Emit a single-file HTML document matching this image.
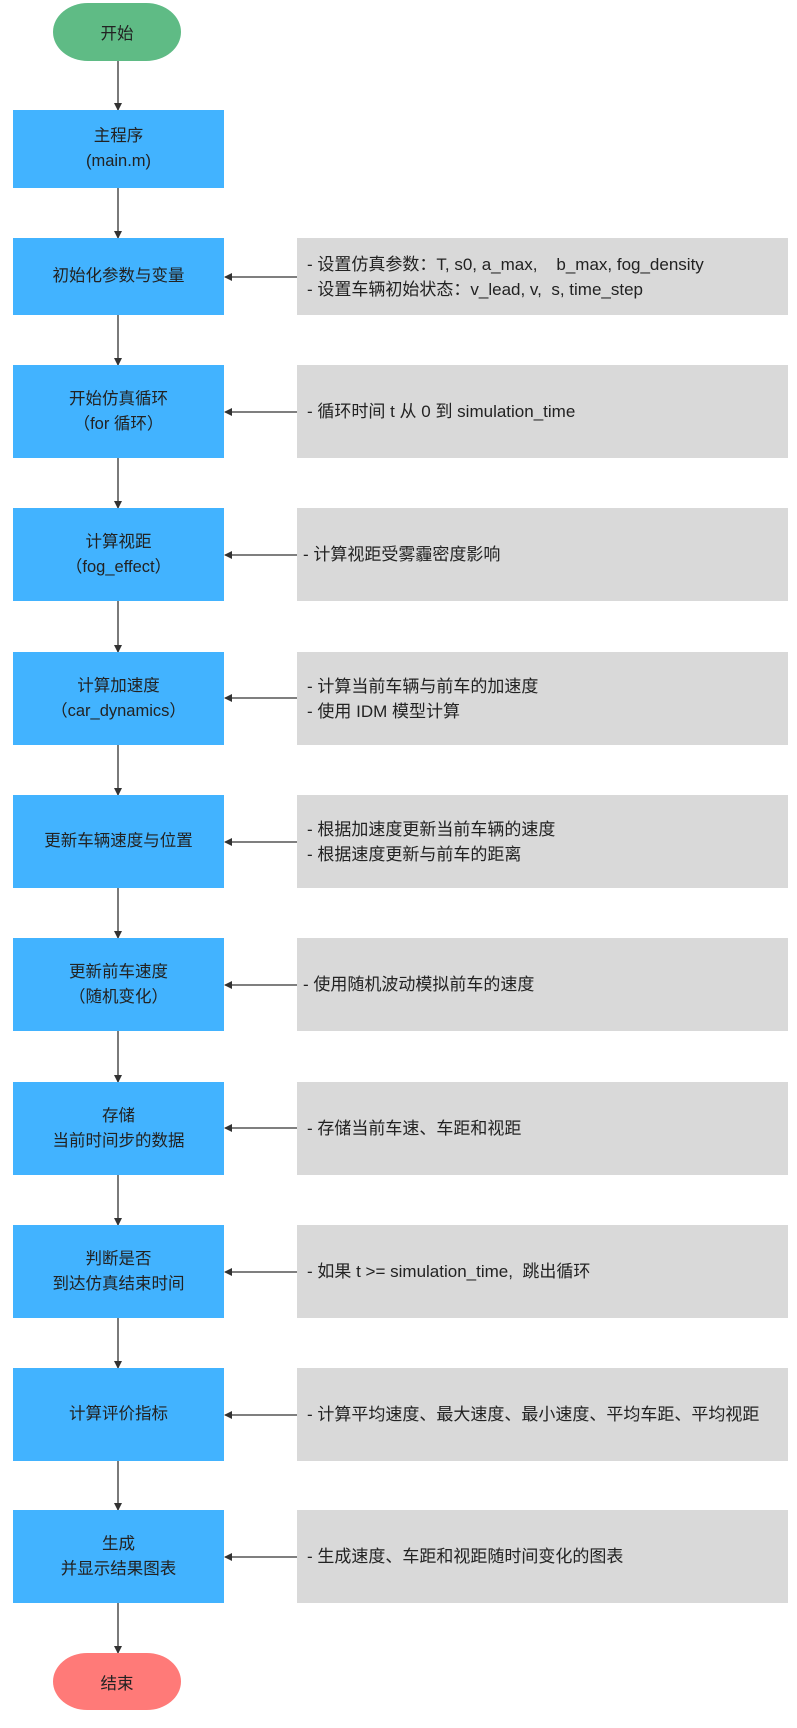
<!DOCTYPE html>
<html><head><meta charset="utf-8"><style>
body{margin:0;width:797px;height:1728px;position:relative;background:#fff;font-family:"Liberation Sans","Noto Sans CJK SC",sans-serif;color:#222;font-size:16.5px;overflow:hidden}
.b{position:absolute;left:13px;width:211px;background:#42B3FF;display:flex;align-items:center;justify-content:center;text-align:center;line-height:25px}
.g{position:absolute;left:297px;width:491px;background:#D9D9D9;display:flex;flex-direction:column;justify-content:center;padding-left:10px;box-sizing:border-box;line-height:25px;font-size:17px}
.o{position:absolute;left:53px;width:128px;border-radius:36px/30px;display:flex;align-items:center;justify-content:center}
svg{position:absolute;left:0;top:0}
</style></head><body>
<svg width="797" height="1728">
<defs><marker id="a" markerWidth="8" markerHeight="8" refX="7" refY="4" orient="auto" markerUnits="userSpaceOnUse"><path d="M0,0L8,4L0,8z" fill="#333"/></marker></defs>
<g stroke="#333" stroke-width="1.3" fill="none" marker-end="url(#a)">
<line x1="118" y1="61" x2="118" y2="110"/>
<line x1="118" y1="188" x2="118" y2="238"/>
<line x1="118" y1="315" x2="118" y2="365"/>
<line x1="118" y1="458" x2="118" y2="508"/>
<line x1="118" y1="601" x2="118" y2="652"/>
<line x1="118" y1="745" x2="118" y2="795"/>
<line x1="118" y1="888" x2="118" y2="938"/>
<line x1="118" y1="1031" x2="118" y2="1082"/>
<line x1="118" y1="1175" x2="118" y2="1225"/>
<line x1="118" y1="1318" x2="118" y2="1368"/>
<line x1="118" y1="1461" x2="118" y2="1510"/>
<line x1="118" y1="1603" x2="118" y2="1653"/>
<line x1="297" y1="277" x2="225" y2="277"/>
<line x1="297" y1="412" x2="225" y2="412"/>
<line x1="297" y1="555" x2="225" y2="555"/>
<line x1="297" y1="698" x2="225" y2="698"/>
<line x1="297" y1="842" x2="225" y2="842"/>
<line x1="297" y1="985" x2="225" y2="985"/>
<line x1="297" y1="1128" x2="225" y2="1128"/>
<line x1="297" y1="1272" x2="225" y2="1272"/>
<line x1="297" y1="1415" x2="225" y2="1415"/>
<line x1="297" y1="1557" x2="225" y2="1557"/>
</g></svg>
<div class="o" style="top:3px;height:58px;background:#5FBB85">开始</div>
<div class="b" style="top:110px;height:78px">主程序<br>(main.m)</div>
<div class="b" style="top:238px;height:77px">初始化参数与变量</div>
<div class="g" style="top:238px;height:77px"><div>- 设置仿真参数：T, s0, a_max,&nbsp;&nbsp;&nbsp; b_max, fog_density</div><div>- 设置车辆初始状态：v_lead, v,&nbsp; s, time_step</div></div>
<div class="b" style="top:365px;height:93px">开始仿真循环<br>（for 循环）</div>
<div class="g" style="top:365px;height:93px"><div>- 循环时间 t 从 0 到 simulation_time</div></div>
<div class="b" style="top:508px;height:93px">计算视距<br>（fog_effect）</div>
<div class="g" style="top:508px;height:93px;padding-left:6px"><div>- 计算视距受雾霾密度影响</div></div>
<div class="b" style="top:652px;height:93px">计算加速度<br>（car_dynamics）</div>
<div class="g" style="top:652px;height:93px"><div>- 计算当前车辆与前车的加速度</div><div>- 使用 IDM 模型计算</div></div>
<div class="b" style="top:795px;height:93px">更新车辆速度与位置</div>
<div class="g" style="top:795px;height:93px"><div>- 根据加速度更新当前车辆的速度</div><div>- 根据速度更新与前车的距离</div></div>
<div class="b" style="top:938px;height:93px">更新前车速度<br>（随机变化）</div>
<div class="g" style="top:938px;height:93px;padding-left:6px"><div>- 使用随机波动模拟前车的速度</div></div>
<div class="b" style="top:1082px;height:93px">存储<br>当前时间步的数据</div>
<div class="g" style="top:1082px;height:93px"><div>- 存储当前车速、车距和视距</div></div>
<div class="b" style="top:1225px;height:93px">判断是否<br>到达仿真结束时间</div>
<div class="g" style="top:1225px;height:93px"><div>- 如果 t &gt;= simulation_time,&nbsp; 跳出循环</div></div>
<div class="b" style="top:1368px;height:93px">计算评价指标</div>
<div class="g" style="top:1368px;height:93px"><div>- 计算平均速度、最大速度、最小速度、平均车距、平均视距</div></div>
<div class="b" style="top:1510px;height:93px">生成<br>并显示结果图表</div>
<div class="g" style="top:1510px;height:93px"><div>- 生成速度、车距和视距随时间变化的图表</div></div>
<div class="o" style="top:1653px;height:57px;background:#FF7A78">结束</div>
</body></html>
